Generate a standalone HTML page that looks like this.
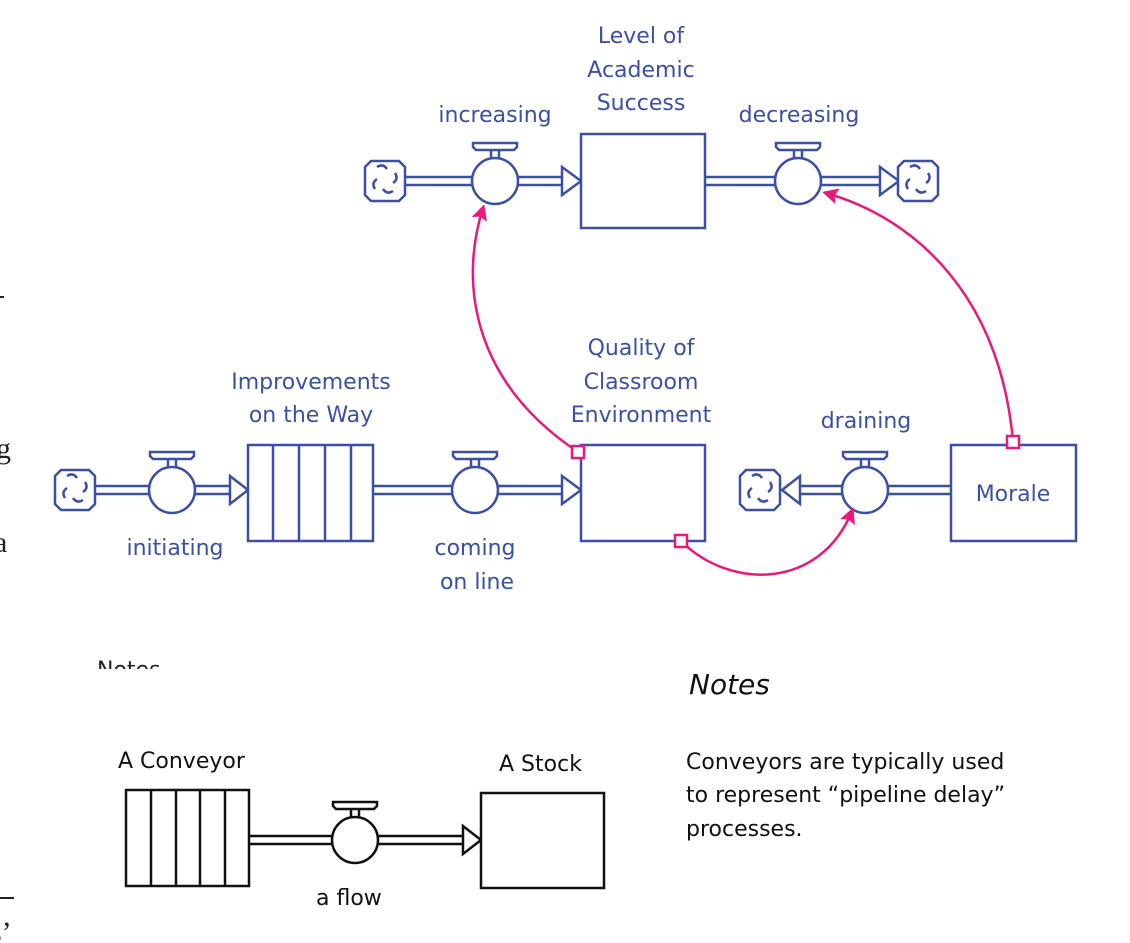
<!DOCTYPE html>
<html><head><meta charset="utf-8"><style>
html,body{margin:0;padding:0;background:#fff;width:1130px;height:943px;overflow:hidden}
svg{display:block}
text{font-family:"DejaVu Sans","Liberation Sans",sans-serif;}
.b text{fill:#3a50a4;font-size:22px}
.serif{font-family:"Liberation Serif",serif !important}
</style></head><body>
<svg width="1130" height="943" viewBox="0 0 1130 943" xmlns="http://www.w3.org/2000/svg">
<defs>
<g id="cloud" fill="#fff" stroke="#3a50a4" stroke-width="2.5">
  <path d="M-14,-20 h28 l6,6 v28 l-6,6 h-28 l-6,-6 v-28 z"/>
  <path d="M-8,-14 q6,-4 10,2 M10,-8 q4,6 -2,10 M8,10 q-6,4 -10,-2 M-10,8 q-4,-6 2,-10" fill="none"/>
</g>
<g id="valve" stroke="#3a50a4" stroke-width="2.5" fill="#fff">
  <circle cx="0" cy="0" r="23"/>
  <path d="M-4,-23 v-8 M4,-23 v-8" fill="none"/>
  <path d="M-22,-38 h44 v4 l-3,3 h-38 l-3,-3 z"/>
</g>
<g id="valveK" stroke="#111" stroke-width="2.5" fill="#fff">
  <circle cx="0" cy="0" r="23"/>
  <path d="M-4,-23 v-8 M4,-23 v-8" fill="none"/>
  <path d="M-22,-38 h44 v4 l-3,3 h-38 l-3,-3 z"/>
</g>
<marker id="mh" markerWidth="16" markerHeight="16" refX="12" refY="8" orient="auto" markerUnits="userSpaceOnUse" viewBox="0 0 16 16">
  <path d="M0,0 L16,8 L0,16 L3,8 z" fill="#e8197a"/>
</marker>
</defs>

<g fill="#222" font-size="30">
<text class="serif" x="-4" y="458">g</text>
<text class="serif" x="-6" y="552">a</text>
<text class="serif" x="-10" y="942">s’</text>
</g>
<rect x="0" y="897" width="14" height="2" fill="#222"/>
<rect x="0" y="296" width="4" height="2" fill="#222"/>
<svg x="90" y="655" width="120" height="14" overflow="hidden"><text x="7" y="22" font-size="22" fill="#222">Notes</text></svg>

<g stroke="#3a50a4" stroke-width="2.5" fill="#fff">
<path d="M405,177 H473 M405,185 H473 M517,177 H562 M517,185 H562" fill="none"/>
<path d="M562,167 L581,181 L562,195 z"/>
<path d="M705,177 H776 M705,185 H776 M820,177 H880 M820,185 H880" fill="none"/>
<path d="M880,167 L899,181 L880,195 z"/>
<rect x="581" y="134" width="124" height="94"/>
<path d="M95,486 H150 M95,494 H150 M194,486 H230 M194,494 H230" fill="none"/>
<path d="M230,476 L248,490 L230,504 z"/>
<rect x="248" y="445" width="125" height="96"/>
<path d="M273,445 V541 M299,445 V541 M325,445 V541 M351,445 V541" fill="none"/>
<path d="M373,486 H453 M373,494 H453 M497,486 H562 M497,494 H562" fill="none"/>
<path d="M562,476 L581,490 L562,504 z"/>
<rect x="581" y="445" width="124" height="96"/>
<path d="M800,486 H843 M800,494 H843 M887,486 H951 M887,494 H951" fill="none"/>
<path d="M800,476 L782,490 L800,504 z"/>
<rect x="951" y="445" width="125" height="96"/>
</g>
<use href="#cloud" x="385" y="181"/>
<use href="#cloud" x="918" y="181"/>
<use href="#cloud" x="75" y="490"/>
<use href="#cloud" x="760" y="490"/>
<use href="#valve" x="495" y="181"/>
<use href="#valve" x="798" y="181"/>
<use href="#valve" x="172" y="490"/>
<use href="#valve" x="475" y="490"/>
<use href="#valve" x="865" y="490"/>

<g stroke="#e8197a" stroke-width="2.5" fill="none">
<path d="M578,452 C470,380 460,280 483,208" marker-end="url(#mh)"/>
<path d="M1013,441 C1000,300 920,220 826,193" marker-end="url(#mh)"/>
<path d="M681,541 C730,590 820,590 852,511" marker-end="url(#mh)"/>
<rect x="572" y="446" width="12" height="12" fill="#fff"/>
<rect x="1007" y="436" width="12" height="12" fill="#fff"/>
<rect x="675" y="535" width="12" height="12" fill="#fff"/>
</g>

<g class="b" text-anchor="middle">
<text x="641" y="43">Level of</text>
<text x="641" y="77">Academic</text>
<text x="641" y="110">Success</text>
<text x="495" y="122">increasing</text>
<text x="799" y="122">decreasing</text>
<text x="641" y="355">Quality of</text>
<text x="641" y="389">Classroom</text>
<text x="641" y="422">Environment</text>
<text x="311" y="389">Improvements</text>
<text x="311" y="422">on the Way</text>
<text x="866" y="428">draining</text>
<text x="1013" y="501">Morale</text>
<text x="175" y="555">initiating</text>
<text x="475" y="555">coming</text>
<text x="477" y="589">on line</text>
</g>

<g stroke="#111" stroke-width="2.5" fill="#fff">
<rect x="126" y="790" width="123" height="96"/>
<path d="M151,790 V886 M176,790 V886 M200,790 V886 M225,790 V886" fill="none"/>
<path d="M249,836 H333 M249,844 H333 M377,836 H463 M377,844 H463" fill="none"/>
<path d="M463,826 L481,840 L463,854 z"/>
<rect x="481" y="793" width="123" height="95"/>
</g>
<use href="#valveK" x="355" y="840"/>
<g fill="#111" font-size="22">
<text x="118" y="768">A Conveyor</text>
<text x="499" y="771">A Stock</text>
<text x="316" y="905">a flow</text>
<text x="689" y="694" font-size="28" font-style="italic">Notes</text>
<text x="686" y="769">Conveyors are typically used</text>
<text x="686" y="802">to represent “pipeline delay”</text>
<text x="686" y="836">processes.</text>
</g>
</svg>
</body></html>
